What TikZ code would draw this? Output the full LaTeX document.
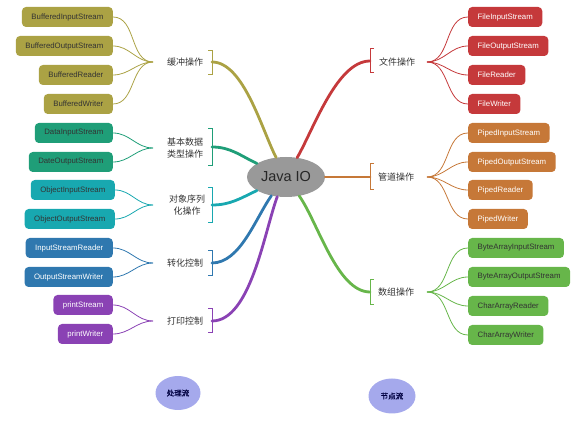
\documentclass[tikz,border=0pt]{standalone}
\usepackage{fontspec}
\usetikzlibrary{shapes.geometric}
\setmainfont{Liberation Sans}
\newfontfamily\cjk{Noto Sans CJK SC}
\newfontfamily\cjkbold[FakeBold=1.2]{Noto Sans CJK SC}
\definecolor{cBuf}{HTML}{ABA244}
\definecolor{cData}{HTML}{1F9E78}
\definecolor{cObj}{HTML}{18A8B0}
\definecolor{cConv}{HTML}{2F78AF}
\definecolor{cPrt}{HTML}{8A42B4}
\definecolor{cFile}{HTML}{C5393B}
\definecolor{cPipe}{HTML}{C67838}
\definecolor{cArr}{HTML}{67B64A}
\definecolor{cFlow}{HTML}{A5A9EC}
\begin{document}
\begin{tikzpicture}[x=1pt, y=-1pt,
    leaf/.style={rounded corners=4pt, minimum height=20pt, inner xsep=9.5pt, inner ysep=0pt,
        text=white, font=\fontsize{7.8}{9}\selectfont},
    lbox/.style={leaf, anchor=east, fill=#1},
    rbox/.style={leaf, anchor=west, fill=#1},
    dark/.style={text=black!80},
    twig/.style={#1, line width=0.8pt},
    limb/.style={#1, line width=2.8pt, line cap=round},
    brace/.style={#1, line width=0.9pt},
    topic/.style={font=\cjk\fontsize{9}{12.5}\selectfont, text=black!80, align=center, inner sep=0pt},
    flow/.style={ellipse, fill=cFlow, inner sep=0pt, font=\cjkbold\fontsize{7.5}{9}\selectfont, text=black!75!blue}]
    \useasboundingbox (0,0) rectangle (584,435);

    % centre
    \node[ellipse, fill=black!40, minimum width=78pt, minimum height=40pt, inner sep=0pt,
        font=\fontsize{14.5}{16}\selectfont, text=black!85] (javaio) at (286,177) {Java IO};

    % left topics
    \node[topic] (buf) at (185,62) {缓冲操作};
    \node[topic] (data) at (185,148) {基本数据\\类型操作};
    \node[topic] (obj) at (187,205) {对象序列\\化操作};
    \node[topic] (conv) at (185,263) {转化控制};
    \node[topic] (prt) at (185,321) {打印控制};
    \coordinate (bufk) at (212,62);
    \coordinate (datak) at (212,147);
    \coordinate (objk) at (212,205);
    \coordinate (convk) at (212,263);
    \coordinate (prtk) at (212,321);
    \coordinate (bufj) at (153,62);
    \coordinate (dataj) at (153,148);
    \coordinate (objj) at (153,205);
    \coordinate (convj) at (153,263);
    \coordinate (prtj) at (153,321);

    % right topics
    \node[topic] (file) at (397,62) {文件操作};
    \node[topic] (pipe) at (396,177) {管道操作};
    \node[topic] (arr) at (396,292) {数组操作};
    \coordinate (filek) at (370,61);
    \coordinate (pipek) at (370,177);
    \coordinate (arrk) at (370,292);
    \coordinate (filej) at (427,62);
    \coordinate (pipej) at (427,177);
    \coordinate (arrj) at (427,292);

    % brackets
    \draw[brace=cBuf] ([shift={(-4,-12)}]bufk) -- ([shift={(0,-12)}]bufk) -- ([shift={(0,12)}]bufk) -- ([shift={(-4,12)}]bufk);
    \draw[brace=cData] ([shift={(-4,-19)}]datak) -- ([shift={(0,-19)}]datak) -- ([shift={(0,18)}]datak) -- ([shift={(-4,18)}]datak);
    \draw[brace=cObj] ([shift={(-4,-18)}]objk) -- ([shift={(0,-18)}]objk) -- ([shift={(0,17)}]objk) -- ([shift={(-4,17)}]objk);
    \draw[brace=cConv] ([shift={(-4,-13)}]convk) -- ([shift={(0,-13)}]convk) -- ([shift={(0,12)}]convk) -- ([shift={(-4,12)}]convk);
    \draw[brace=cPrt] ([shift={(-4,-13)}]prtk) -- ([shift={(0,-13)}]prtk) -- ([shift={(0,11)}]prtk) -- ([shift={(-4,11)}]prtk);
    \draw[brace=cFile] ([shift={(4,-13)}]filek) -- ([shift={(0,-13)}]filek) -- ([shift={(0,11)}]filek) -- ([shift={(4,11)}]filek);
    \draw[brace=cPipe] ([shift={(4,-14)}]pipek) -- ([shift={(0,-14)}]pipek) -- ([shift={(0,12)}]pipek) -- ([shift={(4,12)}]pipek);
    \draw[brace=cArr] ([shift={(4,-13)}]arrk) -- ([shift={(0,-13)}]arrk) -- ([shift={(0,12)}]arrk) -- ([shift={(4,12)}]arrk);

    % limbs
    \draw[limb=cBuf] (bufk) to[out=0, in=117, looseness=0.7] (javaio.117);
    \draw[limb=cData] (datak) to[out=0, in=155] (javaio.155);
    \draw[limb=cObj] (objk) to[out=0, in=205] (javaio.205);
    \draw[limb=cConv] (convk) to[out=0, in=235, looseness=0.8] (javaio.232);
    \draw[limb=cPrt] (prtk) to[out=0, in=250, looseness=0.7] (javaio.246);
    \draw[limb=cFile] (filek) to[out=180, in=60, looseness=0.7] (javaio.60);
    \draw[limb=cPipe] (pipek) -- (javaio.east);
    \draw[limb=cArr] (arrk) to[out=180, in=-55, looseness=0.7] (javaio.-55);

    % left leaves
    \node[lbox=cBuf, dark] (bis) at (113,17) {BufferedInputStream};
    \node[lbox=cBuf, dark] (bos) at (113,46) {BufferedOutputStream};
    \node[lbox=cBuf, dark] (brd) at (113,75) {BufferedReader};
    \node[lbox=cBuf, dark] (bwr) at (113,104) {BufferedWriter};
    \node[lbox=cData, dark] (dis) at (113,133) {DataInputStream};
    \node[lbox=cData, dark] (dos) at (113,162) {DateOutputStream};
    \node[lbox=cObj, dark] (ois) at (115,190) {ObjectInputStream};
    \node[lbox=cObj, dark] (oos) at (115,219) {ObjectOutputStream};
    \node[lbox=cConv] (isr) at (113,248) {InputStreamReader};
    \node[lbox=cConv] (osw) at (113,277) {OutputStreamWriter};
    \node[lbox=cPrt] (ps) at (113,305) {printStream};
    \node[lbox=cPrt] (pw) at (113,334) {printWriter};

    % right leaves
    \node[rbox=cFile] (fis) at (468,17) {FileInputStream};
    \node[rbox=cFile] (fos) at (468,46) {FileOutputStream};
    \node[rbox=cFile] (frd) at (468,75) {FileReader};
    \node[rbox=cFile] (fwr) at (468,104) {FileWriter};
    \node[rbox=cPipe] (pis) at (468,133) {PipedInputStream};
    \node[rbox=cPipe] (pos) at (468,162) {PipedOutputStream};
    \node[rbox=cPipe] (prd) at (468,190) {PipedReader};
    \node[rbox=cPipe] (pwr) at (468,219) {PipedWriter};
    \node[rbox=cArr, dark] (bais) at (468,248) {ByteArrayInputStream};
    \node[rbox=cArr, dark] (baos) at (468,277) {ByteArrayOutputStream};
    \node[rbox=cArr, dark] (card) at (468,306) {CharArrayReader};
    \node[rbox=cArr, dark] (cawr) at (468,335) {CharArrayWriter};

    % twigs
    \draw[twig=cBuf] (bis.east) to[out=0, in=180] (bufj);
    \draw[twig=cBuf] (bos.east) to[out=0, in=180] (bufj);
    \draw[twig=cBuf] (brd.east) to[out=0, in=180] (bufj);
    \draw[twig=cBuf] (bwr.east) to[out=0, in=180] (bufj);
    \draw[twig=cData] (dis.east) to[out=0, in=180] (dataj);
    \draw[twig=cData] (dos.east) to[out=0, in=180] (dataj);
    \draw[twig=cObj] (ois.east) to[out=0, in=180] (objj);
    \draw[twig=cObj] (oos.east) to[out=0, in=180] (objj);
    \draw[twig=cConv] (isr.east) to[out=0, in=180] (convj);
    \draw[twig=cConv] (osw.east) to[out=0, in=180] (convj);
    \draw[twig=cPrt] (ps.east) to[out=0, in=180] (prtj);
    \draw[twig=cPrt] (pw.east) to[out=0, in=180] (prtj);
    \draw[twig=cFile] (fis.west) to[out=180, in=0] (filej);
    \draw[twig=cFile] (fos.west) to[out=180, in=0] (filej);
    \draw[twig=cFile] (frd.west) to[out=180, in=0] (filej);
    \draw[twig=cFile] (fwr.west) to[out=180, in=0] (filej);
    \draw[twig=cPipe] (pis.west) to[out=180, in=0] (pipej);
    \draw[twig=cPipe] (pos.west) to[out=180, in=0] (pipej);
    \draw[twig=cPipe] (prd.west) to[out=180, in=0] (pipej);
    \draw[twig=cPipe] (pwr.west) to[out=180, in=0] (pipej);
    \draw[twig=cArr] (bais.west) to[out=180, in=0] (arrj);
    \draw[twig=cArr] (baos.west) to[out=180, in=0] (arrj);
    \draw[twig=cArr] (card.west) to[out=180, in=0] (arrj);
    \draw[twig=cArr] (cawr.west) to[out=180, in=0] (arrj);

    % bottom
    \node[flow, minimum width=45pt, minimum height=34pt] (proc) at (178,393) {处理流};
    \node[flow, minimum width=47pt, minimum height=35pt] (nodef) at (392,396) {节点流};
\end{tikzpicture}
\end{document}
